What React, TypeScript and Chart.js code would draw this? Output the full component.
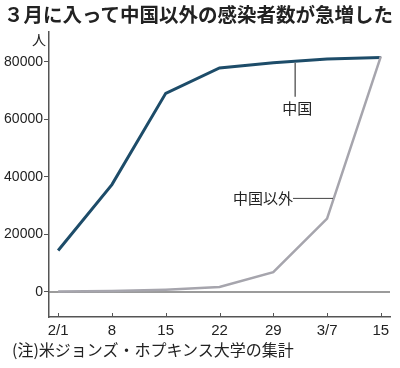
import React, { useEffect, useRef } from "react";
import { Chart, registerables } from "chart.js";

Chart.register(...registerables);

const categories = ["2/1", "8", "15", "22", "29", "3/7", "15"];
const chinaValues = [14380, 37300, 69000, 77800, 79600, 80900, 81400];
const outsideValues = [150, 300, 800, 1700, 6900, 25500, 81800];
const yTickValues = [0, 20000, 40000, 60000, 80000];

const titleText = "３月に入って中国以外の感染者数が急増した";
const unitText = "人";
const noteText = "(注)米ジョンズ・ホプキンス大学の集計";
const chinaLabel = "中国";
const outsideLabel = "中国以外";

const NUMFONT = "'Liberation Sans', Arial, sans-serif";
const CJK = "'Noto Sans CJK JP', sans-serif";

const overlayPlugin = {
  id: "overlay",
  beforeDatasetsDraw(chart: any) {
    const { ctx, chartArea, scales } = chart;
    const x = scales.x;
    const y = scales.y;
    ctx.save();
    const y0 = y.getPixelForValue(0);
    ctx.strokeStyle = "#7a7a7a";
    ctx.lineWidth = 1.5;
    ctx.beginPath();
    ctx.moveTo(chartArea.left, y0);
    ctx.lineTo(chartArea.right, y0);
    ctx.stroke();
    ctx.strokeStyle = "#555";
    ctx.lineWidth = 1;
    for (let i = 0; i < categories.length; i++) {
      const px = Math.round(x.getPixelForValue(i)) + 0.5;
      ctx.beginPath();
      ctx.moveTo(px, chartArea.bottom);
      ctx.lineTo(px, chartArea.bottom - 4);
      ctx.stroke();
    }
    ctx.restore();
  },
  afterDatasetsDraw(chart: any) {
    const { ctx, scales } = chart;
    const x = scales.x;
    const y = scales.y;
    ctx.save();
    const cx = (x.getPixelForValue(4) + x.getPixelForValue(5)) / 2 - 5;
    const cyTop = y.getPixelForValue(80300) + 2;
    ctx.strokeStyle = "#666";
    ctx.lineWidth = 1.5;
    ctx.beginPath();
    ctx.moveTo(cx, cyTop);
    ctx.lineTo(cx, cyTop + 34);
    ctx.stroke();
    ctx.fillStyle = "#222";
    ctx.font = "15px " + CJK;
    ctx.textAlign = "center";
    ctx.textBaseline = "middle";
    ctx.fillText(chinaLabel, cx + 2, cyTop + 46);
    const ly = y.getPixelForValue(32500);
    const lx = 333;
    ctx.strokeStyle = "#444";
    ctx.lineWidth = 1;
    ctx.beginPath();
    ctx.moveTo(293, ly);
    ctx.lineTo(lx, ly);
    ctx.stroke();
    ctx.textAlign = "right";
    ctx.fillText(outsideLabel, 293, ly);
    ctx.restore();
  },
};

export default function App() {
  const canvasRef = useRef<HTMLCanvasElement | null>(null);

  useEffect(() => {
    const canvas = canvasRef.current;
    if (!canvas) return;
    const chart = new Chart(canvas, {
      type: "line",
      data: {
        datasets: [
          {
            label: outsideLabel,
            data: outsideValues.map((v, i) => ({ x: i, y: v })),
            borderColor: "#a6a5ad",
            borderWidth: 2.5,
            pointRadius: 0,
            tension: 0,
          },
          {
            label: chinaLabel,
            data: chinaValues.map((v, i) => ({ x: i, y: v })),
            borderColor: "#1d4c69",
            borderWidth: 3,
            pointRadius: 0,
            tension: 0,
          },
        ],
      },
      options: {
        animation: false,
        responsive: false,
        maintainAspectRatio: false,
        layout: { padding: { top: 32, right: 10, left: 0, bottom: 0 } },
        plugins: {
          legend: { display: false },
          tooltip: { enabled: false },
          title: { display: false },
        },
        scales: {
          x: {
            type: "linear",
            min: -0.17,
            max: 6.17,
            afterBuildTicks: (s: any) => {
              s.ticks = categories.map((_, i) => ({ value: i }));
            },
            afterFit: (s: any) => {
              s.height = 368 - 317;
            },
            ticks: {
              callback: (v: any) => categories[v as number] ?? "",
              color: "#222",
              font: { family: NUMFONT, size: 15 },
              padding: 5,
              maxRotation: 0,
              autoSkip: false,
            },
            grid: { display: false, drawTicks: false },
            border: { display: true, color: "#555", width: 1.5 },
          },
          y: {
            min: -8700,
            max: 90300,
            afterBuildTicks: (s: any) => {
              s.ticks = yTickValues.map((v) => ({ value: v }));
            },
            afterFit: (s: any) => {
              s.width = 49;
            },
            ticks: {
              callback: (v: any) => String(v),
              color: "#222",
              font: { family: NUMFONT, size: 14 },
              padding: 1,
            },
            grid: {
              display: true,
              drawOnChartArea: false,
              drawTicks: true,
              tickLength: 5,
              color: "#555",
              lineWidth: 1,
            },
            border: { display: true, color: "#555", width: 1.5 },
          },
        },
      },
      plugins: [overlayPlugin],
    } as any);
    return () => chart.destroy();
  }, []);

  return (
    <div style={{ position: "absolute", left: 0, top: 0, width: 400, height: 368, background: "#fff", overflow: "hidden" }}>
      <canvas ref={canvasRef} width={400} height={368} style={{ position: "absolute", left: 0, top: 0, width: 400, height: 368 }} />
      <div
        style={{
          position: "absolute",
          left: 4,
          top: 1,
          fontFamily: CJK,
          fontWeight: 700,
          fontSize: 19.5,
          lineHeight: "26px",
          color: "#222",
          whiteSpace: "nowrap",
        }}
      >
        {titleText}
      </div>
      <div
        style={{
          position: "absolute",
          left: 32,
          top: 30,
          fontFamily: CJK,
          fontSize: 14,
          lineHeight: "18px",
          color: "#222",
        }}
      >
        {unitText}
      </div>
      <div
        style={{
          position: "absolute",
          left: 12,
          top: 338,
          fontFamily: CJK,
          fontSize: 16,
          lineHeight: "22px",
          color: "#222",
          whiteSpace: "nowrap",
        }}
      >
        {noteText}
      </div>
    </div>
  );
}
